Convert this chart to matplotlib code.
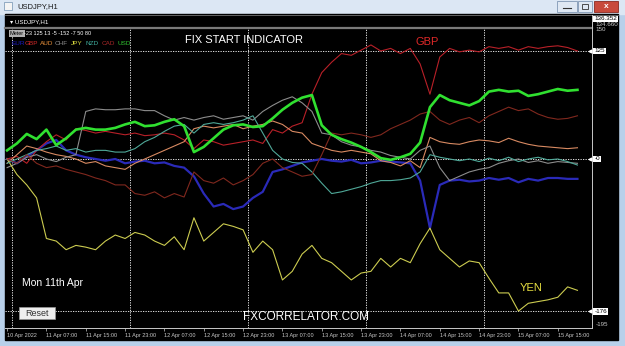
import numpy as np
import pandas as pd
import matplotlib
matplotlib.use("Agg")
import matplotlib.pyplot as plt
import matplotlib.dates as mdates
from matplotlib.patches import Rectangle

plt.rcParams['font.family'] = ['Liberation Sans', 'DejaVu Sans']

# H1 bars, one reading every 2 hours
times = pd.date_range("2022-04-10 23:00", periods=59, freq="2h")

eur = [0, -5, 3, 10, 18, 22, 10, 5, 2, 0,
       -2, 0, -5, -3, -2, -5, -4, -8, -10, -20,
       -40, -55, -52, -58, -55, -45, -38, -15, -12, -8,
       -4, -2, 0, -2, -3, -1, -5, -4, -2, -3,
       -4, -5, -25, -80, -30, -25, -24, -26, -25, -22,
       -24, -22, -27, -23, -25, -22, -22, -23, -23]
gbp = [0, 3, -5, 10, 20, 28, 22, 35, 33, 30,
       32, 30, 28, 30, 27, 28, 30, 28, 22, 12,
       22, 20, 16, 18, 20, 22, 18, 34, 30, 38,
       42, 75, 100, 112, 122, 120, 126, 132, 125, 128,
       122, 128, 110, 75, 118, 128, 124, 126, 124, 130,
       128, 130, 126, 130, 128, 130, 131, 129, 125]
aud = [-5, 5, 15, 12, 8, 5, 3, 0, -5, -3,
       -8, -10, -12, -5, 0, 5, 10, 15, 20, 35,
       38, 36, 38, 40, 35, 38, 40, 44, 40, 32,
       30, 18, 14, 10, 8, 10, 8, 6, -2, -4,
       -8, -2, -10, 25, 20, 18, 17, 20, 22, 21,
       19, 24, 20, 17, 15, 14, 13, 12, 13]
chf = [-10, -5, 2, 5, 0, -3, 2, 5, 55, 58,
       57, 57, 58, 58, 56, 56, 50, 45, 48, 45,
       48, 50, 46, 48, 50, 45, 55, 62, 68, 72,
       65, 55, 30, 28, 20, 16, 14, 10, 8, 4,
       2, 0, 10, 15, -10, -25, -20, -15, -12, -10,
       -5, -2, 0, -4, -2, -5, -3, -4, -5]
jpy = [0, -18, -30, -45, -92, -95, -105, -100, -102, -105,
       -95, -88, -92, -85, -88, -95, -100, -90, -105, -68,
       -95, -85, -75, -78, -82, -108, -95, -105, -140, -130,
       -110, -100, -115, -120, -130, -140, -132, -130, -115, -125,
       -115, -120, -98, -80, -105, -115, -125, -118, -120, -138,
       -155, -155, -176, -167, -165, -163, -160, -148, -152]
nzd = [-5, 0, 5, 10, 12, 15, 10, 12, 8, 10,
       10, 8, 8, 12, 20, 25, 32, 38, 40, 30,
       40, 42, 40, 42, 45, 50, 30, 10, 0, -4,
       -5, -15, -28, -40, -38, -35, -32, -28, -25, -25,
       -24, -22, -15, 5, 2, 0, -2, 0, -3, 1,
       -2, 2, -3, 0, 2, -1, 0, -3, -7]
cad = [0, -5, 5, -5, -10, -8, -12, -15, -18, -22,
       -25, -30, -30, -40, -42, -38, -45, -40, -44, -15,
       -25, -28, -22, -30, -25, -18, -5, 0, -10, -15,
       -20, -18, 5, 30, 28, 30, 28, 25, 28, 35,
       40, 45, 52, 55, 45, 40, 45, 48, 42, 50,
       55, 60, 56, 58, 52, 48, 46, 47, 50]
usd = [10, 18, 29, 23, 34, 16, 24, 34, 36, 34,
       34, 36, 40, 43, 38, 39, 43, 46, 38, 8,
       14, 24, 34, 39, 40, 37, 38, 47, 57, 65,
       71, 74, 39, 28, 23, 19, 14, 8, 1, -1,
       2, 6, 19, 60, 74, 68, 65, 62, 67, 78,
       80, 78, 79, 73, 75, 78, 81, 79, 80]

names = ["EUR", "GBP", "AUD", "CHF", "JPY", "NZD", "CAD", "USD"]
meter = [-23, 125, 13, -5, -152, -7, 50, 80]
levels = [125, 0, -176]
tick_times = [times[0]] + list(pd.date_range("2022-04-11 07:00", "2022-04-15 15:00", freq="8h"))
tick_labels = ["10 Apr 2022"] + [t.strftime("%-d %b %H:%M") for t in tick_times[1:]]
days = pd.date_range("2022-04-11", periods=5, freq="D")

series = [eur, gbp, aud, chf, jpy, nzd, cad, usd]
line_colors = ["#2a2ab8", "#b82028", "#d88a62", "#8c8c8c", "#cccc50", "#4fa898", "#80281e", "#30e030"]
label_colors = ["#1c1cc0", "#d42a2a", "#e8903a", "#909090", "#e0e040", "#40b0a0", "#a82828", "#30c030"]
widths = [1.6, 0.8, 0.8, 0.8, 0.8, 0.8, 0.8, 1.9]

W, H = 625, 346
fig = plt.figure(figsize=(6.25, 3.46), dpi=100)

# window frame, drawn in pixel coordinates
bg = fig.add_axes([0, 0, 1, 1], zorder=1)
bg.set_xlim(0, W)
bg.set_ylim(H, 0)
bg.axis("off")
bg.add_patch(Rectangle((0, 0), W, H, color="#b8d0ea"))
bg.add_patch(Rectangle((0, 0), W, 14, color="#dce7f4"))
bg.add_patch(Rectangle((5, 14), 613, 326, color="black"))
bg.add_patch(Rectangle((4, 2), 8, 8, fc="#f4f4f4", ec="#7090b0", lw=0.5))
bg.text(17, 7, "USDJPY,H1", fontsize=5.5, color="#1a1a1a", va="center")
bg.add_patch(Rectangle((557, 1), 20, 11, fc="#dfe8f3", ec="#8098b4", lw=0.6))
bg.add_patch(Rectangle((578, 1), 14, 11, fc="#dfe8f3", ec="#8098b4", lw=0.6))
bg.add_patch(Rectangle((594, 1), 24, 11, fc="#c84a3c", ec="#8a2a20", lw=0.6))
bg.plot([563, 571], [8, 8], color="#333333", lw=0.8)
bg.add_patch(Rectangle((582, 4), 6, 5, fc="none", ec="#333333", lw=0.6))
bg.text(606, 6.5, "x", fontsize=6, color="white", ha="center", va="center", fontweight="bold")
bg.plot([5, 618], [15, 15], color="#8a8a8a", lw=0.5)
bg.plot([5, 592], [28, 28], color="#7a7a7a", lw=1.6)
bg.plot([592, 592], [15, 328], color="#c8c8c8", lw=0.7)
bg.plot([5, 592], [328, 328], color="#c8c8c8", lw=0.7)

# indicator window
ax = fig.add_axes([5 / W, 1 - 328 / H, 587 / W, 300 / H], zorder=2)
ax.patch.set_alpha(0)
t0 = pd.Timestamp("2022-04-11 00:00")
ax.set_xlim(t0 - pd.Timedelta(hours=7 / 4.917), t0 + pd.Timedelta(hours=580 / 4.917))
ax.set_ylim(-195.6, 151.6)
for s in ax.spines.values():
    s.set_visible(False)
for lv in levels:
    ax.axhline(lv, color="white", lw=0.6, ls=(0, (1.5, 1.5)))
for d in days:
    ax.axvline(d, color="white", lw=0.6, ls=(0, (1.5, 1.5)))
for vals, c, lw in zip(series, line_colors, widths):
    ax.plot(times, vals, color=c, lw=lw)

ax.set_xticks(tick_times)
ax.set_xticklabels(tick_labels, fontsize=4, color="#c8c8c8", ha="left")
ax.tick_params(axis="x", length=2, width=0.5, color="#c8c8c8", pad=1.5)
ax.set_yticks([])

ytr = ax.get_yaxis_transform()
box = dict(boxstyle="square,pad=0.15", fc="white", ec="none")
for lv in levels:
    ax.text(1.004, lv, "-0" if lv == 0 else str(lv), transform=ytr, fontsize=4.5,
            color="black", va="center", ha="left", bbox=box, clip_on=False)
    ax.plot([0.997], [lv], marker="<", ms=2, color="white", transform=ytr, clip_on=False)
ax.text(1.006, 150, "150", transform=ytr, fontsize=4.5, color="#c8c8c8", va="center", clip_on=False)
ax.text(1.006, -192, "-195", transform=ytr, fontsize=4.5, color="#c8c8c8", va="center", clip_on=False)

# texts on top
top = fig.add_axes([0, 0, 1, 1], zorder=3)
top.set_xlim(0, W)
top.set_ylim(H, 0)
top.axis("off")
top.text(594, 19, "136.352", fontsize=4.5, color="black", va="center",
         bbox=dict(boxstyle="square,pad=0.15", fc="white", ec="none"))
top.text(595, 25, "134.660", fontsize=4.5, color="#c8c8c8", va="center")
top.text(10, 21.5, "\u25be USDJPY,H1", fontsize=4.5, color="white", va="center")
top.text(10, 33.5, "Meter", fontsize=4, color="black", va="center",
         bbox=dict(boxstyle="square,pad=0.1", fc="#b0b0b0", ec="none"))
top.text(24, 33.5, " ".join(str(m) for m in meter), fontsize=4, color="white", va="center")
for name, c, x in zip(names, label_colors, [11, 25, 40, 55, 71, 86, 102, 117]):
    top.text(x, 43.5, name, fontsize=4.6, color=c, va="center")
top.text(185, 40, "FIX START INDICATOR", fontsize=8, color="white", va="center")
top.text(415, 42, "GBP", fontsize=8, color="#e02828", va="center")
top.text(22, 283, "Mon 11th Apr", fontsize=7.5, color="white", va="center")
top.text(520, 288, "YEN", fontsize=8, color="#e8e040", va="center")
top.text(243, 317, "FXCORRELATOR.COM", fontsize=8.5, color="white", va="center")
top.add_patch(Rectangle((19, 307), 36, 12, fc="#eeeeee", ec="#999999", lw=0.5))
top.text(37, 313, "Reset", fontsize=6.5, color="#333333", ha="center", va="center")

fig.savefig("out.png", dpi=100)
